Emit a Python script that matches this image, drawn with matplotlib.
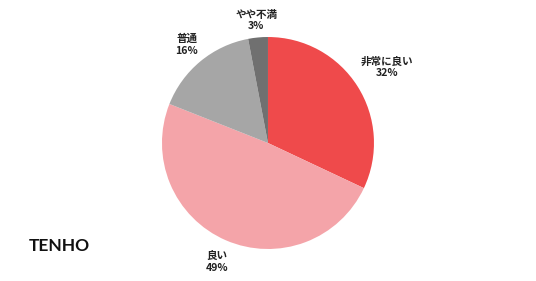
import matplotlib
matplotlib.use("Agg")
import matplotlib.pyplot as plt
import numpy as np

plt.rcParams['font.family'] = ['Noto Sans CJK JP', 'DejaVu Sans']

# data
labels = ['非常に良い', '良い', '普通', 'やや不満']
values = [32, 49, 16, 3]
colors = ['#EF4A4B', '#F4A4A9', '#A6A6A6', '#707070']
label_dist = [1.33, 1.22, 1.2, 1.16]

fig = plt.figure(figsize=(5.36, 2.81), dpi=100)
ax = fig.add_axes([0.3022, 0.1139, 0.3955, 0.7544])

wedges, _ = ax.pie(values, colors=colors, startangle=90, counterclock=False,
                   radius=1, wedgeprops=dict(linewidth=0))
ax.set_xlim(-1, 1)
ax.set_ylim(-1, 1)
ax.set_aspect('equal')
ax.axis('off')

# labels outside the slices
for w, lab, v, d in zip(wedges, labels, values, label_dist):
    ang = np.deg2rad((w.theta1 + w.theta2) / 2)
    ax.text(d * np.cos(ang), d * np.sin(ang), f'{lab}\n{v}%',
            ha='center', va='center', fontsize=7.6, fontweight='bold',
            color='#222222', linespacing=1.2)

fig.text(59 / 536, 1 - 246 / 281, 'TENHO', ha='center', va='center',
         fontsize=12.5, fontweight='bold', family='Lato', color='#111111')

fig.savefig('out.png', dpi=100)
